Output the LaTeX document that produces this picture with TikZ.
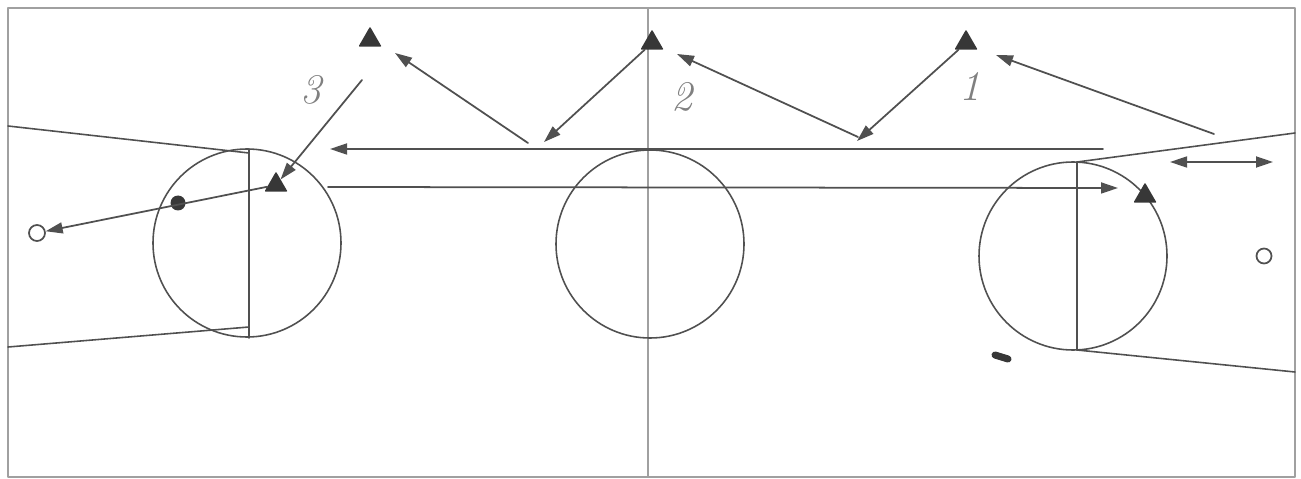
\documentclass[tikz,border=0pt]{standalone}
\usetikzlibrary{arrows.meta,shapes.geometric}
\definecolor{chalk}{RGB}{80,80,80}
\definecolor{frame}{RGB}{160,160,160}
\definecolor{marker}{RGB}{55,55,55}

\begin{document}
\begin{tikzpicture}[x=0.1mm, y=-0.1mm, line cap=round, line join=round,
  court/.style={chalk, line width=0.45pt},
  pass/.style={chalk, line width=0.5pt, -{Triangle[length=1.7mm, width=1.1mm]}},
  player/.style={regular polygon, regular polygon sides=3, fill=marker, draw=marker,
                 inner sep=0pt, minimum size=2.4mm},
  num/.style={text=gray, font=\large\itshape}]

  \useasboundingbox (0,0) rectangle (1301,479);

  %========= geometry parameters =========
  \def\rk{94}           % radius of the three circles
  \def\xm{648}          % half-way line

  %========= court =========
  \draw[frame, line width=0.4pt] (8,8) rectangle (1295,477);
  \draw[frame, line width=0.4pt] (\xm,8) -- (\xm,477);
  \draw[court] (650,244) circle[radius=\rk];
  \draw[court] (247,243) circle[radius=\rk];
  \draw[court] (1073,256) circle[radius=\rk];

  % left end: key lines and base line
  \draw[court] (249,149) -- (249,338);
  \draw[court] (8,126) -- (249,153);
  \draw[court] (8,347) -- (249,327);

  % right end
  \draw[court] (1077,162) -- (1077,350);
  \draw[court] (1077,162) -- (1295,133);
  \draw[court] (1077,350) -- (1295,372);

  %========= players and ball =========
  \node[player] (p3) at (370,40) {};
  \node[player] (p2) at (652,43) {};
  \node[player] (p1) at (966,43) {};
  \node[player] (pL) at (276,185) {};
  \node[player] (pR) at (1145,196) {};
  \node[circle, fill=marker, inner sep=0pt, minimum size=1.5mm] (ball) at (178,203) {};
  \node[circle, draw=chalk, line width=0.5pt, inner sep=0pt, minimum size=1.6mm] (gL) at (37,233) {};
  \node[circle, draw=chalk, line width=0.5pt, inner sep=0pt, minimum size=1.5mm] (gR) at (1264,256) {};
  \draw[marker, line width=2pt] (995,355) -- (1008,359);

  \node[num] (n3) at (311,90) {3};
  \node[num] (n2) at (682,97) {2};
  \node[num] (n1) at (970,86) {1};

  %========= passes and runs =========
  \coordinate (h1s) at (1103,149);  \coordinate (h1e) at (330,149);
  \coordinate (h2s) at (328,187);   \coordinate (h2e) at (1118,188);
  \draw[pass] (h1s) -- (h1e);
  \draw[pass] (h2s) -- (h2e);

  \coordinate (a1s) at (528,143);   \coordinate (a1e) at (395,53);
  \coordinate (a2e) at (544,142);
  \coordinate (a3s) at (858,137);   \coordinate (a3e) at (677,54);
  \coordinate (a4e) at (857,141);
  \coordinate (a5s) at (1214,134);  \coordinate (a5e) at (996,55);
  \coordinate (a6s) at (362,80);
  \coordinate (d1) at (1170,162);   \coordinate (d2) at (1273,162);

  \draw[pass] (a1s) -- (a1e);
  \draw[pass] (p2) -- (a2e);
  \draw[pass] (a3s) -- (a3e);
  \draw[pass] (p1) -- (a4e);
  \draw[pass] (a5s) -- (a5e);
  \draw[pass] (a6s) -- (pL);
  \draw[pass] (pL) -- (gL);
  \draw[pass, {Triangle[length=1.7mm, width=1.1mm]}-{Triangle[length=1.7mm, width=1.1mm]}] (d1) -- (d2);
\end{tikzpicture}
\end{document}
